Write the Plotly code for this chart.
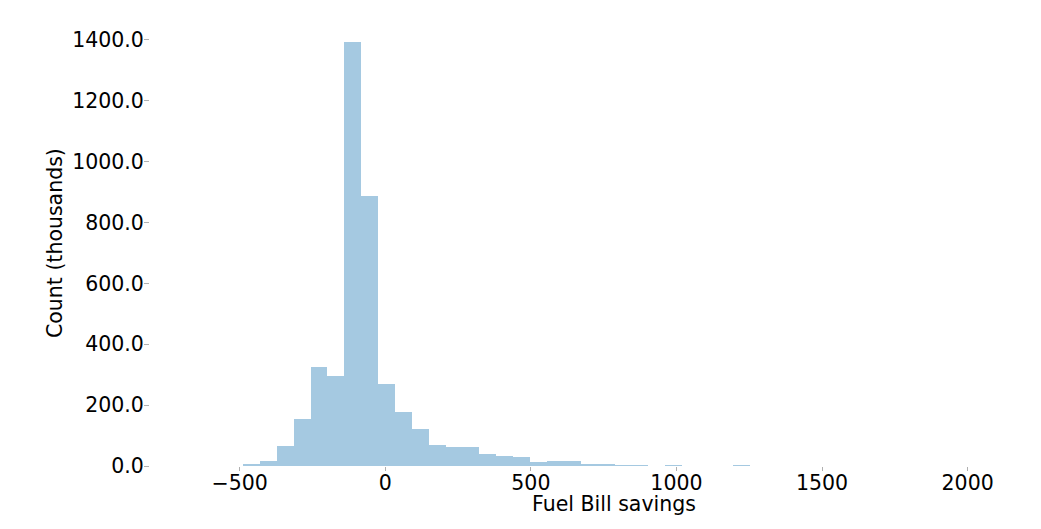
import numpy as np
import plotly.graph_objects as go

# histogram of fuel bill savings, counts in thousands
bin_start = -662.7
bin_width = 58.0
counts = [0.3, 0.5, 1.0, 5, 16, 65, 155, 325, 296, 1393,
          887, 270, 178, 120, 69, 64, 61, 41, 33, 30,
          12, 18, 18, 7, 6, 3, 4, 0.5, 3, 0.3,
          0.3, 0.3, 2, 0.1, 0.1, 0, 0, 0, 0, 0,
          0, 0, 0, 0, 0, 0, 0.5, 0, 0, 0.5]

x_ticks = [-500, 0, 500, 1000, 1500, 2000]
y_ticks = [0, 200, 400, 600, 800, 1000, 1200, 1400]

centers = bin_start + bin_width * (np.arange(len(counts)) + 0.5)

fig = go.Figure()
fig.add_trace(go.Bar(x=centers, y=counts, width=bin_width,
                     marker=dict(color="rgba(31,119,180,0.4)", line=dict(width=0)),
                     showlegend=False, hoverinfo="x+y"))

# page body has an 8px margin, so the figure is drawn 8px smaller/offset
fig.update_layout(
    width=1033, height=521,
    margin=dict(l=142, r=0, t=12, b=63),
    paper_bgcolor="white", plot_bgcolor="white",
    bargap=0,
    font=dict(family="DejaVu Sans", size=20.5, color="black"),
    xaxis=dict(range=[-808, 2252], tickvals=x_ticks, showgrid=False, zeroline=False,
               showline=False, ticks="outside", ticklen=4, tickcolor="#b0b0b0",
               ticklabelstandoff=-6),
    yaxis=dict(range=[0, 1465.7], tickvals=y_ticks, tickformat=".1f", showgrid=False,
               zeroline=False, showline=False, ticks="outside", ticklen=5,
               tickcolor="#b0b0b0", ticklabelstandoff=-4),
    annotations=[
        dict(text="Fuel Bill savings", xref="paper", yref="paper",
             x=0.5208, y=-0.085, xanchor="center", yanchor="middle",
             showarrow=False, font=dict(size=20.5)),
        dict(text="Count (thousands)", xref="paper", yref="paper", textangle=-90,
             x=-0.1066, y=0.5, xanchor="center", yanchor="middle",
             showarrow=False, font=dict(size=20.5)),
    ],
)

fig.write_html("out.html")
